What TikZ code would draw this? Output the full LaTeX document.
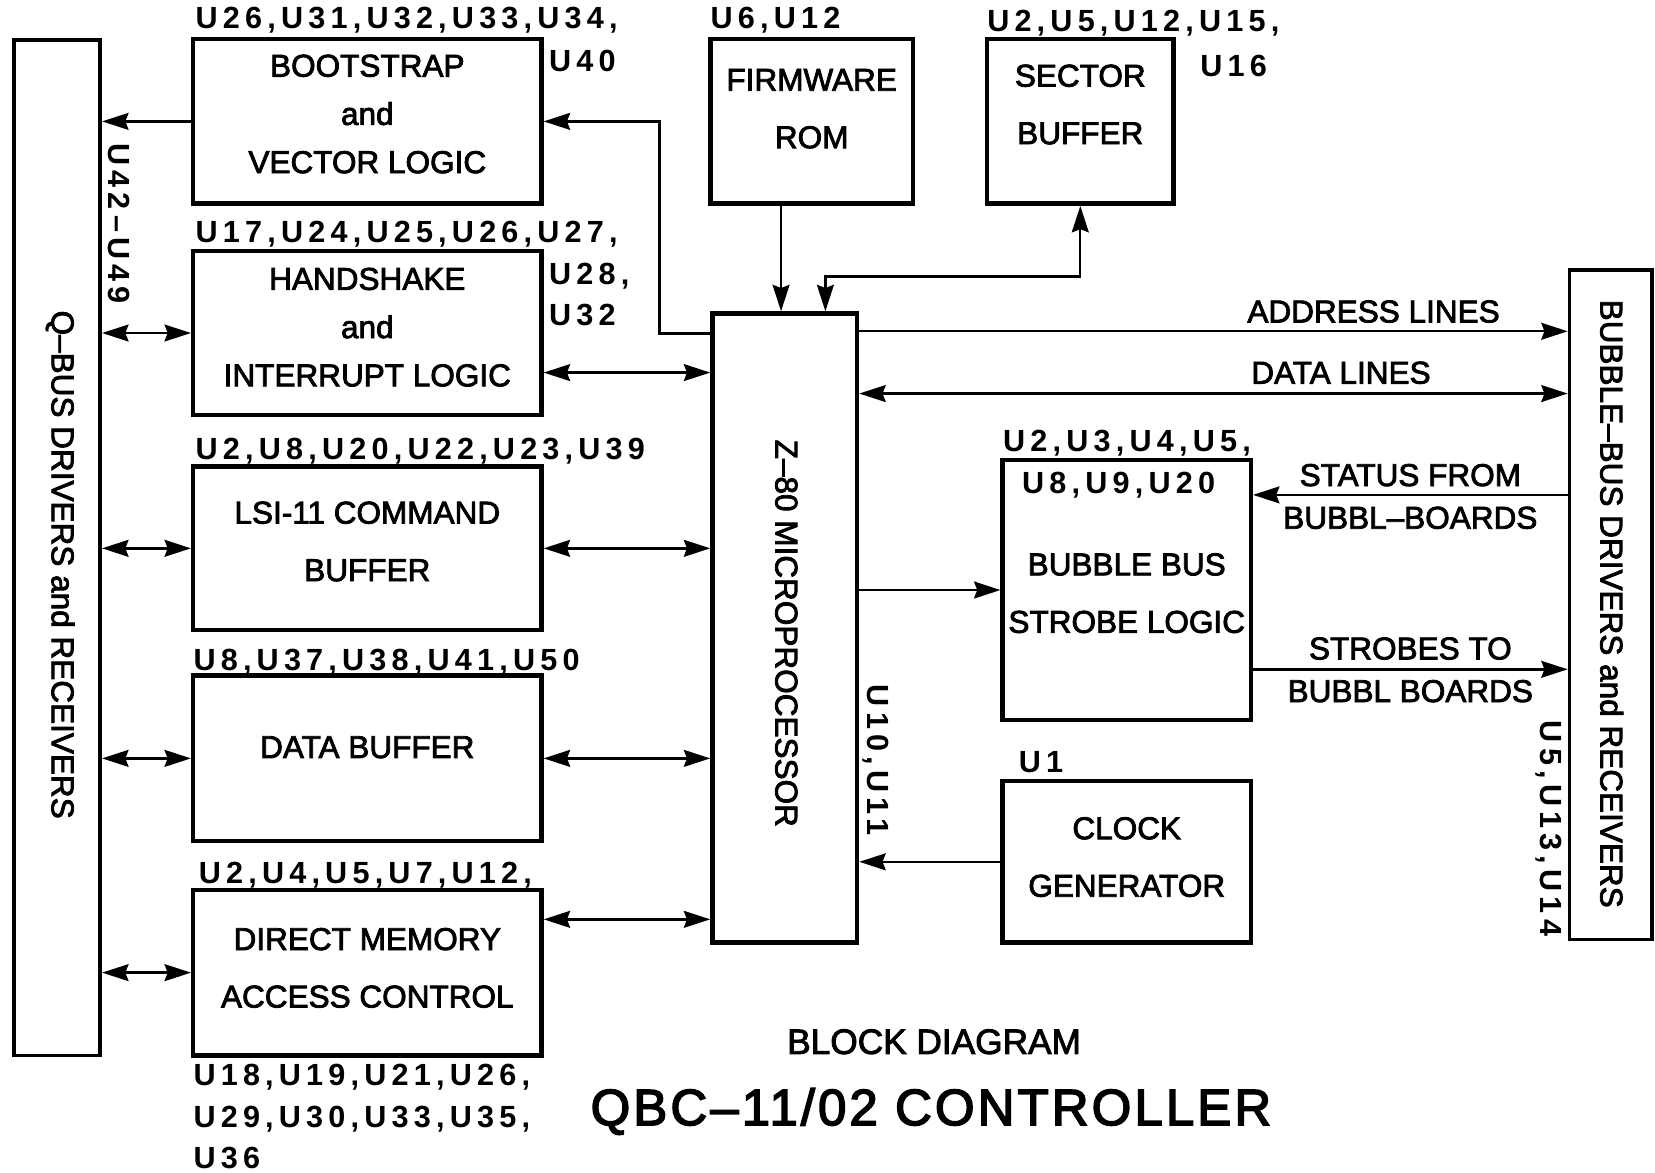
\documentclass[tikz,border=0pt]{standalone}
\usepackage{fontspec}
\setmainfont{Liberation Sans}
\newfontfamily\boxfont[FakeBold=2.5]{Liberation Sans}
\newfontfamily\partfont[LetterSpace=17]{Liberation Sans}
\newfontfamily\titlefont[LetterSpace=6, FakeBold=3]{Liberation Sans}
\usetikzlibrary{arrows.meta, positioning}

\tikzset{
  blk/.style={draw, line width=0.85mm, inner sep=0pt},
  bus/.style={draw, line width=0.7mm, inner sep=0pt},
  boxtxt/.style={align=center, inner sep=0pt, font=\boxfont\fontsize{17}{26}\selectfont},
  parts/.style={inner sep=0pt, anchor=base west, font=\partfont\bfseries\fontsize{16.5}{20}\selectfont},
  sig/.style={inner sep=0pt, font=\boxfont\fontsize{17}{20}\selectfont},
  arr/.style={line width=0.45mm, -{Stealth[length=5mm, width=3.2mm, inset=0.6mm]}},
  dbl/.style={line width=0.45mm, {Stealth[length=5mm, width=3.2mm, inset=0.6mm]}-{Stealth[length=5mm, width=3.2mm, inset=0.6mm]}},
}

\begin{document}
\begin{tikzpicture}[x=0.2mm, y=-0.2mm]
  \useasboundingbox (0,0) rectangle (1568,1111);
  % Bus drivers
  \node[bus, minimum width=16.4mm, minimum height=192.4mm] (qbus) at (54,519) {};
  \node[boxtxt, rotate=-90] (qbus-t) at (57,535) {Q–BUS DRIVERS and RECEIVERS};
  \node[parts, rotate=-90, anchor=center] (qbus-u) at (113,212) {U42–U49};
  \node[bus, minimum width=15.6mm, minimum height=126.8mm] (bbus) at (1526,573) {};
  \node[boxtxt, rotate=-90] (bbus-t) at (1527,572) {BUBBLE–BUS DRIVERS and RECEIVERS};
  \node[parts, rotate=-90, anchor=center] (bbus-u) at (1467,785) {U5,U13,U14};

  % Left column
  \node[blk, minimum width=66mm, minimum height=31.2mm] (boot) at (348,115) {};
  \node[boxtxt] (boot-t) at (348,108) {BOOTSTRAP\\and\\VECTOR LOGIC};
  \node[parts] (boot-u1) at (185,27) {U26,U31,U32,U33,U34,};
  \node[parts] (boot-u2) at (520,68) {U40};

  \node[blk, minimum width=66mm, minimum height=31mm] (hand) at (348,315.5) {};
  \node[boxtxt] (hand-t) at (348,310) {HANDSHAKE\\and\\INTERRUPT LOGIC};
  \node[parts] (hand-u1) at (185,230) {U17,U24,U25,U26,U27,};
  \node[parts] (hand-u2) at (520,270) {U28,};
  \node[parts] (hand-u3) at (520,308) {U32};

  \node[blk, minimum width=66mm, minimum height=31mm] (lsi) at (348,519.5) {};
  \node[boxtxt] (lsi-t) at (348,513) {LSI-11 COMMAND\\[5pt]BUFFER};
  \node[parts] (lsi-u) at (185,435) {U2,U8,U20,U22,U23,U39};

  \node[blk, minimum width=66mm, minimum height=31.4mm] (dbuf) at (348,718.5) {};
  \node[boxtxt] (dbuf-t) at (348,708) {DATA BUFFER};
  \node[parts] (dbuf-u) at (183,635) {U8,U37,U38,U41,U50};

  \node[blk, minimum width=66mm, minimum height=31.4mm] (dma) at (348,921.5) {};
  \node[boxtxt] (dma-t) at (348,917) {DIRECT MEMORY\\[5pt]ACCESS CONTROL};
  \node[parts] (dma-u1) at (188,837) {U2,U4,U5,U7,U12,};
  \node[parts] (dma-u2) at (183,1028) {U18,U19,U21,U26,};
  \node[parts] (dma-u3) at (183,1068) {U29,U30,U33,U35,};
  \node[parts] (dma-u4) at (183,1107) {U36};

  % Top row
  \node[blk, minimum width=38.4mm, minimum height=31.2mm] (rom) at (769,115) {};
  \node[boxtxt] (rom-t) at (769,103) {FIRMWARE\\[5pt]ROM};
  \node[parts] (rom-u) at (673,27) {U6,U12};

  \node[blk, minimum width=35.4mm, minimum height=31.2mm] (sector) at (1023.5,115) {};
  \node[boxtxt] (sector-t) at (1023.5,99) {SECTOR\\[5pt]BUFFER};
  \node[parts] (sector-u1) at (935,30) {U2,U5,U12,U15,};
  \node[parts] (sector-u2) at (1137,72) {U16};

  % Processor
  \node[blk, minimum width=27.4mm, minimum height=119.2mm] (z80) at (743.5,595) {};
  \node[boxtxt, rotate=-90] (z80-t) at (745,600) {Z–80 MICROPROCESSOR};
  \node[parts, rotate=-90, anchor=center] (z80-u) at (830,720) {U10,U11};

  % Right column
  \node[blk, minimum width=47mm, minimum height=49.2mm] (strobe) at (1067.5,559) {};
  \node[boxtxt] (strobe-t) at (1067.5,562) {BUBBLE BUS\\[5pt]STROBE LOGIC};
  \node[parts] (strobe-u1) at (950,428) {U2,U3,U4,U5,};
  \node[parts] (strobe-u2) at (968,468) {U8,U9,U20};

  \node[blk, minimum width=47mm, minimum height=30.6mm] (clock) at (1067.5,816.5) {};
  \node[boxtxt] (clock-t) at (1067.5,812) {CLOCK\\[5pt]GENERATOR};
  \node[parts] (clock-u) at (965,732) {U1};

  % Q-bus links
  \draw[arr] (boot.west) -- (boot.west -| qbus.east);
  \foreach \blk in {hand, lsi, dbuf, dma}
    \draw[dbl] (\blk.west) -- (\blk.west -| qbus.east);

  % Processor links
  \draw[arr] ([yshift=-4.2mm]z80.north west) -| (625,115) -- (boot.east);
  \draw[dbl] ([yshift=-7.5mm]hand.east) coordinate (h-out) -- (h-out -| z80.west);
  \draw[dbl] (lsi.east) -- (lsi.east -| z80.west);
  \draw[dbl] (dbuf.east) -- (dbuf.east -| z80.west);
  \draw[dbl] ([yshift=10.1mm]dma.east) coordinate (d-out) -- (d-out -| z80.west);
  \draw[arr] ([xshift=-5.8mm]rom.south) coordinate (r-out) -- (r-out |- z80.north);
  \coordinate (s-bend) at (782,262);
  \draw[dbl] (sector.south) |- (s-bend) -- (s-bend |- z80.north);
  \draw[arr] (strobe.west -| z80.east) -- (strobe.west);
  \draw[arr] (clock.west) -- (clock.west -| z80.east);

  % Bubble bus links
  \draw[arr] ([yshift=-3.8mm]z80.north east) coordinate (a-out) -- (a-out -| bbus.west)
    node[sig, pos=0.726, above=1.4mm] (addr-t) {ADDRESS LINES};
  \draw[dbl] ([yshift=-15.6mm]z80.north east) coordinate (dl-out) -- (dl-out -| bbus.west)
    node[sig, pos=0.68, above=1.6mm] (data-t) {DATA LINES};
  \coordinate (st-in) at ([yshift=-7mm]strobe.north east);
  \draw[arr] (st-in -| bbus.west) -- (st-in)
    node[sig, midway, above=1.4mm] (stat-t1) {STATUS FROM}
    node[sig, midway, below=2mm] (stat-t2) {BUBBL–BOARDS};
  \coordinate (sb-out) at ([yshift=10mm]strobe.south east);
  \draw[arr] (sb-out) -- (sb-out -| bbus.west)
    node[sig, midway, above=1.6mm] (strb-t1) {STROBES TO}
    node[sig, midway, below=1.8mm] (strb-t2) {BUBBL BOARDS};

  % Captions
  \node[font=\boxfont\fontsize{19}{22}\selectfont] (diag-t) at (885,987) {BLOCK DIAGRAM};
  \node[font=\titlefont\fontsize{27.5}{30}\selectfont] (ctrl-t) at (882,1053) {QBC–11/02 CONTROLLER};
\end{tikzpicture}
\end{document}
